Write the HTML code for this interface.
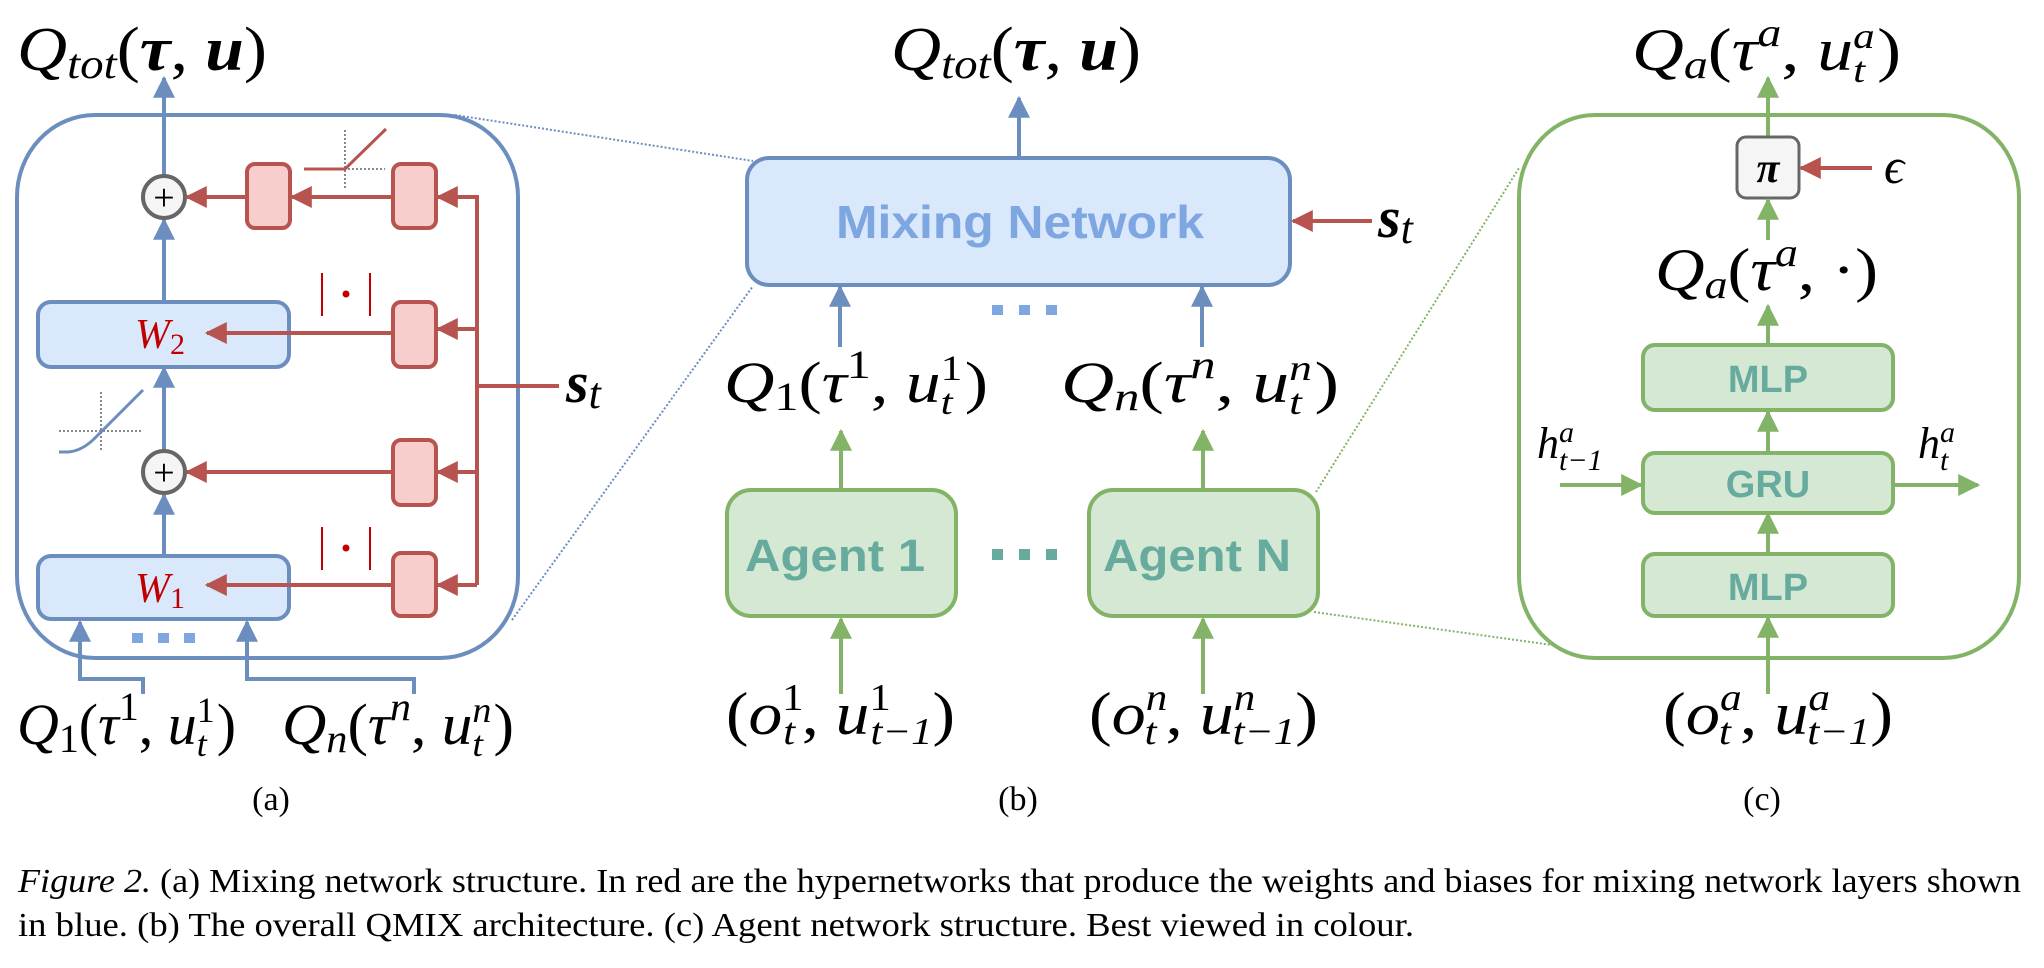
<!DOCTYPE html>
<html><head><meta charset="utf-8"><style>
html,body{margin:0;padding:0;background:#fff;}
svg{display:block;}
.m{font-family:"Liberation Serif","DejaVu Serif",serif;font-style:italic;fill:#000;}
.r{font-family:"Liberation Serif","DejaVu Serif",serif;fill:#000;}
.s{font-family:"Liberation Sans",sans-serif;font-weight:bold;}
</style></head><body>
<svg width="2044" height="968" viewBox="0 0 2044 968" xmlns="http://www.w3.org/2000/svg">
<defs>
<marker id="ab" viewBox="0 0 10 10" refX="9" refY="5" markerWidth="5.5" markerHeight="5.5" orient="auto" markerUnits="strokeWidth"><path d="M0,0 L10,5 L0,10 z" fill="#6c8ebf"/></marker>
<marker id="ar" viewBox="0 0 10 10" refX="9" refY="5" markerWidth="5.5" markerHeight="5.5" orient="auto" markerUnits="strokeWidth"><path d="M0,0 L10,5 L0,10 z" fill="#b85450"/></marker>
<marker id="ag" viewBox="0 0 10 10" refX="9" refY="5" markerWidth="5.5" markerHeight="5.5" orient="auto" markerUnits="strokeWidth"><path d="M0,0 L10,5 L0,10 z" fill="#82b366"/></marker>
</defs>

<line x1="455" y1="115" x2="753" y2="161" stroke="#6c8ebf" stroke-width="2" stroke-dasharray="2,2"/>
<line x1="512" y1="620" x2="753" y2="286" stroke="#6c8ebf" stroke-width="2" stroke-dasharray="2,2"/>
<line x1="1316" y1="492" x2="1519" y2="168" stroke="#82b366" stroke-width="2" stroke-dasharray="2,2"/>
<line x1="1314" y1="612" x2="1552" y2="645" stroke="#82b366" stroke-width="2" stroke-dasharray="2,2"/>

<!-- ===== Panel (a) ===== -->
<rect x="17" y="115" width="501" height="543" rx="78" ry="82" fill="none" stroke="#6c8ebf" stroke-width="4"/>
<text class="m" x="17" y="70" font-size="62" textLength="250" lengthAdjust="spacingAndGlyphs">Q<tspan font-size="42" dy="8">tot</tspan><tspan font-style="normal" dy="-8">(</tspan><tspan font-weight="bold">τ</tspan><tspan font-style="normal">, </tspan><tspan font-weight="bold">u</tspan><tspan font-style="normal">)</tspan></text>
<line x1="164" y1="175" x2="164" y2="78" stroke="#6c8ebf" stroke-width="4" marker-end="url(#ab)"/>
<line x1="164" y1="302" x2="164" y2="220" stroke="#6c8ebf" stroke-width="4" marker-end="url(#ab)"/>
<line x1="164" y1="450" x2="164" y2="368" stroke="#6c8ebf" stroke-width="4" marker-end="url(#ab)"/>
<line x1="164" y1="556" x2="164" y2="495" stroke="#6c8ebf" stroke-width="4" marker-end="url(#ab)"/>
<circle cx="164" cy="197" r="21" fill="#f5f5f5" stroke="#666" stroke-width="4"/>
<text class="r" x="164" y="210" font-size="38" text-anchor="middle">+</text>
<circle cx="164" cy="472" r="21" fill="#f5f5f5" stroke="#666" stroke-width="4"/>
<text class="r" x="164" y="485" font-size="38" text-anchor="middle">+</text>
<rect x="38" y="302" width="251" height="65" rx="13" fill="#dae8fc" stroke="#6c8ebf" stroke-width="4"/>
<text class="m" x="135" y="348" font-size="42" style="fill:#c00000">W<tspan font-style="normal" font-size="30" dy="6">2</tspan></text>
<rect x="38" y="556" width="251" height="63" rx="13" fill="#dae8fc" stroke="#6c8ebf" stroke-width="4"/>
<text class="m" x="135" y="602" font-size="42" style="fill:#c00000">W<tspan font-style="normal" font-size="30" dy="6">1</tspan></text>
<g fill="#f8cecc" stroke="#b85450" stroke-width="4">
<rect x="247" y="164" width="43" height="64" rx="8"/>
<rect x="393" y="164" width="43" height="64" rx="8"/>
<rect x="393" y="302" width="43" height="65" rx="8"/>
<rect x="393" y="440" width="43" height="65" rx="8"/>
<rect x="393" y="553" width="43" height="63" rx="8"/>
</g>
<g stroke="#b85450" stroke-width="4" fill="none">
<line x1="477" y1="195" x2="477" y2="585"/>
<line x1="477" y1="386" x2="559" y2="386"/>
<line x1="477" y1="197" x2="438" y2="197" marker-end="url(#ar)"/>
<line x1="477" y1="329" x2="438" y2="329" marker-end="url(#ar)"/>
<line x1="477" y1="472" x2="438" y2="472" marker-end="url(#ar)"/>
<line x1="477" y1="585" x2="438" y2="585" marker-end="url(#ar)"/>
<line x1="393" y1="197" x2="292" y2="197" marker-end="url(#ar)"/>
<line x1="247" y1="197" x2="187" y2="197" marker-end="url(#ar)"/>
<line x1="393" y1="333" x2="207" y2="333" marker-end="url(#ar)"/>
<line x1="393" y1="472" x2="187" y2="472" marker-end="url(#ar)"/>
<line x1="393" y1="585" x2="207" y2="585" marker-end="url(#ar)"/>
</g>
<text class="m" x="566" y="402" font-size="58" font-weight="bold">s<tspan font-weight="normal" font-size="44" dy="6">t</tspan></text>
<g stroke="#c00000" stroke-width="2">
<line x1="322" y1="273" x2="322" y2="316"/><line x1="370" y1="273" x2="370" y2="316"/>
<line x1="322" y1="527" x2="322" y2="570"/><line x1="370" y1="527" x2="370" y2="570"/>
</g>
<circle cx="346" cy="294" r="3.5" fill="#c00000"/>
<circle cx="346" cy="548" r="3.5" fill="#c00000"/>
<g stroke="#888" stroke-width="2" stroke-dasharray="2,2">
<line x1="345" y1="130" x2="345" y2="190"/><line x1="304" y1="169" x2="385" y2="169"/>
<line x1="101" y1="392" x2="101" y2="452"/><line x1="59" y1="431" x2="141" y2="431"/>
</g>
<polyline points="304,169 345,169 386,129" fill="none" stroke="#b85450" stroke-width="3"/>
<path d="M59,452 L68,452 Q82,451 95,438 L143,390" fill="none" stroke="#6c8ebf" stroke-width="3"/>
<g fill="#7ea6e0"><rect x="132" y="633" width="11" height="10"/><rect x="158" y="633" width="11" height="10"/><rect x="184" y="633" width="11" height="10"/></g>
<polyline points="143,694 143,679 80,679 80,622" fill="none" stroke="#6c8ebf" stroke-width="4" marker-end="url(#ab)"/>
<polyline points="414,694 414,679 247,679 247,622" fill="none" stroke="#6c8ebf" stroke-width="4" marker-end="url(#ab)"/>
<text class="m" x="17" y="744" font-size="58" textLength="219" lengthAdjust="spacingAndGlyphs">Q<tspan font-style="normal" font-size="40" dy="8">1</tspan><tspan font-style="normal" dy="-8">(</tspan>τ<tspan font-style="normal" font-size="40" dy="-24">1</tspan><tspan font-style="normal" dy="24">, </tspan>u<tspan font-style="normal" font-size="36" dy="-22">1</tspan><tspan font-size="36" dx="-18" dy="34">t</tspan><tspan font-style="normal" dx="10" dy="-12">)</tspan></text>
<text class="m" x="282" y="744" font-size="58" textLength="232" lengthAdjust="spacingAndGlyphs">Q<tspan font-size="40" dy="8">n</tspan><tspan font-style="normal" dy="-8">(</tspan>τ<tspan font-size="40" dy="-24">n</tspan><tspan font-style="normal" dy="24">, </tspan>u<tspan font-size="36" dy="-22">n</tspan><tspan font-size="36" dx="-18" dy="34">t</tspan><tspan font-style="normal" dx="10" dy="-12">)</tspan></text>
<text class="r" x="271" y="810" font-size="34" text-anchor="middle">(a)</text>

<!-- ===== Panel (b) ===== -->
<text class="m" x="891" y="70" font-size="62" textLength="250" lengthAdjust="spacingAndGlyphs">Q<tspan font-size="42" dy="8">tot</tspan><tspan font-style="normal" dy="-8">(</tspan><tspan font-weight="bold">τ</tspan><tspan font-style="normal">, </tspan><tspan font-weight="bold">u</tspan><tspan font-style="normal">)</tspan></text>
<line x1="1019" y1="158" x2="1019" y2="98" stroke="#6c8ebf" stroke-width="4" marker-end="url(#ab)"/>
<rect x="747" y="158" width="543" height="127" rx="22" fill="#dae8fc" stroke="#6c8ebf" stroke-width="4"/>
<text class="s" x="1020" y="238" font-size="46" text-anchor="middle" fill="#7ea6e0" textLength="368" lengthAdjust="spacingAndGlyphs">Mixing Network</text>
<line x1="1372" y1="221" x2="1293" y2="221" stroke="#b85450" stroke-width="4" marker-end="url(#ar)"/>
<text class="m" x="1378" y="237" font-size="58" font-weight="bold">s<tspan font-weight="normal" font-size="44" dy="6">t</tspan></text>
<line x1="840" y1="347" x2="840" y2="287" stroke="#6c8ebf" stroke-width="4" marker-end="url(#ab)"/>
<line x1="1202" y1="347" x2="1202" y2="287" stroke="#6c8ebf" stroke-width="4" marker-end="url(#ab)"/>
<g fill="#7ea6e0"><rect x="992" y="305" width="11" height="10"/><rect x="1019" y="305" width="11" height="10"/><rect x="1046" y="305" width="11" height="10"/></g>
<text class="m" x="724" y="402" font-size="58" textLength="264" lengthAdjust="spacingAndGlyphs">Q<tspan font-style="normal" font-size="40" dy="8">1</tspan><tspan font-style="normal" dy="-8">(</tspan>τ<tspan font-style="normal" font-size="40" dy="-24">1</tspan><tspan font-style="normal" dy="24">, </tspan>u<tspan font-style="normal" font-size="36" dy="-22">1</tspan><tspan font-size="36" dx="-18" dy="34">t</tspan><tspan font-style="normal" dx="10" dy="-12">)</tspan></text>
<text class="m" x="1061" y="402" font-size="58" textLength="278" lengthAdjust="spacingAndGlyphs">Q<tspan font-size="40" dy="8">n</tspan><tspan font-style="normal" dy="-8">(</tspan>τ<tspan font-size="40" dy="-24">n</tspan><tspan font-style="normal" dy="24">, </tspan>u<tspan font-size="36" dy="-22">n</tspan><tspan font-size="36" dx="-18" dy="34">t</tspan><tspan font-style="normal" dx="10" dy="-12">)</tspan></text>
<line x1="841" y1="490" x2="841" y2="431" stroke="#82b366" stroke-width="4" marker-end="url(#ag)"/>
<line x1="1203" y1="490" x2="1203" y2="431" stroke="#82b366" stroke-width="4" marker-end="url(#ag)"/>
<rect x="727" y="490" width="229" height="126" rx="24" fill="#d5e8d4" stroke="#82b366" stroke-width="4"/>
<rect x="1089" y="490" width="229" height="126" rx="24" fill="#d5e8d4" stroke="#82b366" stroke-width="4"/>
<text class="s" x="835" y="571" font-size="45" text-anchor="middle" fill="#67ab9f" textLength="180" lengthAdjust="spacingAndGlyphs">Agent 1</text>
<text class="s" x="1197" y="571" font-size="45" text-anchor="middle" fill="#67ab9f" textLength="188" lengthAdjust="spacingAndGlyphs">Agent N</text>
<g fill="#67ab9f"><rect x="992" y="549" width="11" height="11"/><rect x="1019" y="549" width="11" height="11"/><rect x="1046" y="549" width="11" height="11"/></g>
<line x1="841" y1="694" x2="841" y2="619" stroke="#82b366" stroke-width="4" marker-end="url(#ag)"/>
<line x1="1203" y1="694" x2="1203" y2="619" stroke="#82b366" stroke-width="4" marker-end="url(#ag)"/>
<text class="m" x="726" y="734" font-size="60" textLength="229" lengthAdjust="spacingAndGlyphs"><tspan font-style="normal">(</tspan>o<tspan font-style="normal" font-size="38" dy="-24">1</tspan><tspan font-size="38" dx="-18" dy="34">t</tspan><tspan font-style="normal" dx="6" dy="-10">, </tspan>u<tspan font-style="normal" font-size="38" dy="-24">1</tspan><tspan font-size="38" dx="-18" dy="34">t−1</tspan><tspan font-style="normal" dy="-10">)</tspan></text>
<text class="m" x="1089" y="734" font-size="60" textLength="229" lengthAdjust="spacingAndGlyphs"><tspan font-style="normal">(</tspan>o<tspan font-size="38" dy="-24">n</tspan><tspan font-size="38" dx="-20" dy="34">t</tspan><tspan font-style="normal" dx="8" dy="-10">, </tspan>u<tspan font-size="38" dy="-24">n</tspan><tspan font-size="38" dx="-20" dy="34">t−1</tspan><tspan font-style="normal" dy="-10">)</tspan></text>
<text class="r" x="1018" y="810" font-size="34" text-anchor="middle">(b)</text>

<!-- ===== Panel (c) ===== -->
<rect x="1519" y="115" width="500" height="543" rx="76" ry="82" fill="none" stroke="#82b366" stroke-width="4"/>
<text class="m" x="1632" y="70" font-size="60" textLength="269" lengthAdjust="spacingAndGlyphs">Q<tspan font-size="40" dy="8">a</tspan><tspan font-style="normal" dy="-8">(</tspan>τ<tspan font-size="40" dy="-24">a</tspan><tspan font-style="normal" dy="24">, </tspan>u<tspan font-size="36" dy="-22">a</tspan><tspan font-size="36" dx="-18" dy="34">t</tspan><tspan font-style="normal" dx="10" dy="-12">)</tspan></text>
<line x1="1768" y1="136" x2="1768" y2="78" stroke="#82b366" stroke-width="4" marker-end="url(#ag)"/>
<rect x="1737" y="137" width="62" height="61" rx="9" fill="#f5f5f5" stroke="#666" stroke-width="3"/>
<text class="m" x="1768" y="182" font-size="42" text-anchor="middle" font-weight="bold">π</text>
<line x1="1872" y1="168" x2="1801" y2="168" stroke="#b85450" stroke-width="4" marker-end="url(#ar)"/>
<text class="m" x="1884" y="183" font-size="50">ϵ</text>
<line x1="1768" y1="240" x2="1768" y2="200" stroke="#82b366" stroke-width="4" marker-end="url(#ag)"/>
<text class="m" x="1655" y="290" font-size="60" textLength="223" lengthAdjust="spacingAndGlyphs">Q<tspan font-size="40" dy="8">a</tspan><tspan font-style="normal" dy="-8">(</tspan>τ<tspan font-size="40" dy="-24">a</tspan><tspan font-style="normal" dy="24">, ·)</tspan></text>
<line x1="1768" y1="345" x2="1768" y2="306" stroke="#82b366" stroke-width="4" marker-end="url(#ag)"/>
<line x1="1768" y1="453" x2="1768" y2="412" stroke="#82b366" stroke-width="4" marker-end="url(#ag)"/>
<line x1="1768" y1="554" x2="1768" y2="514" stroke="#82b366" stroke-width="4" marker-end="url(#ag)"/>
<line x1="1768" y1="694" x2="1768" y2="618" stroke="#82b366" stroke-width="4" marker-end="url(#ag)"/>
<rect x="1643" y="345" width="250" height="65" rx="12" fill="#d5e8d4" stroke="#82b366" stroke-width="4"/>
<rect x="1643" y="453" width="250" height="60" rx="12" fill="#d5e8d4" stroke="#82b366" stroke-width="4"/>
<rect x="1643" y="554" width="250" height="62" rx="12" fill="#d5e8d4" stroke="#82b366" stroke-width="4"/>
<text class="s" x="1768" y="392" font-size="38" text-anchor="middle" fill="#67ab9f">MLP</text>
<text class="s" x="1768" y="497" font-size="38" text-anchor="middle" fill="#67ab9f">GRU</text>
<text class="s" x="1768" y="600" font-size="38" text-anchor="middle" fill="#67ab9f">MLP</text>
<line x1="1560" y1="485" x2="1641" y2="485" stroke="#82b366" stroke-width="4" marker-end="url(#ag)"/>
<line x1="1895" y1="485" x2="1978" y2="485" stroke="#82b366" stroke-width="4" marker-end="url(#ag)"/>
<text class="m" x="1537" y="458" font-size="44">h<tspan font-size="30" dy="-16">a</tspan><tspan font-size="30" dx="-15" dy="28">t−1</tspan></text>
<text class="m" x="1918" y="458" font-size="44">h<tspan font-size="30" dy="-16">a</tspan><tspan font-size="30" dx="-15" dy="28">t</tspan></text>
<text class="m" x="1663" y="734" font-size="60" textLength="230" lengthAdjust="spacingAndGlyphs"><tspan font-style="normal">(</tspan>o<tspan font-size="38" dy="-24">a</tspan><tspan font-size="38" dx="-20" dy="34">t</tspan><tspan font-style="normal" dx="8" dy="-10">, </tspan>u<tspan font-size="38" dy="-24">a</tspan><tspan font-size="38" dx="-20" dy="34">t−1</tspan><tspan font-style="normal" dy="-10">)</tspan></text>
<text class="r" x="1762" y="810" font-size="34" text-anchor="middle">(c)</text>

<text class="r" x="18" y="892" font-size="34" textLength="2003" lengthAdjust="spacingAndGlyphs"><tspan font-style="italic">Figure 2.</tspan> (a) Mixing network structure. In red are the hypernetworks that produce the weights and biases for mixing network layers shown</text>
<text class="r" x="18" y="936" font-size="34" textLength="1396" lengthAdjust="spacingAndGlyphs">in blue. (b) The overall QMIX architecture. (c) Agent network structure. Best viewed in colour.</text>
</svg>
</body></html>
